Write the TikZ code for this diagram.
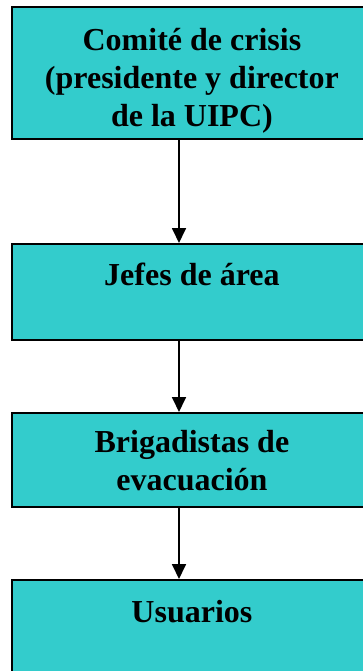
\documentclass[tikz,border=0pt]{standalone}
\usepackage{fontspec}
\setmainfont{Liberation Serif}
\usetikzlibrary{arrows.meta}
\definecolor{boxcyan}{RGB}{51,204,204}
\tikzset{
  orgbox/.style={draw=black, line width=1.8pt, fill=boxcyan, rectangle, inner sep=0pt, anchor=north west, minimum width=360pt},
  boxtext/.style={anchor=north, align=center, font=\fontsize{32}{38}\selectfont\bfseries, inner sep=0pt},
  conn/.style={line width=1.8pt, -{Triangle[length=15pt, width=14pt]}}
}
\begin{document}
\begin{tikzpicture}[x=1pt, y=-1pt]
\useasboundingbox (0,0) rectangle (363,671);
\clip (0,0) rectangle (363,671);
\node[orgbox, minimum height=132pt] (b1) at (11,6) {};
\node[orgbox, minimum height=96pt] (b2) at (11,243) {};
\node[orgbox, minimum height=94pt] (b3) at (11,412) {};
\node[orgbox, minimum height=110pt] (b4) at (11,579) {};
\node[boxtext] (t1) at ([yshift=-22pt]b1.north) {Comité de crisis\\(presidente y director\\de la UIPC)};
\node[boxtext] (t2) at ([yshift=-20pt]b2.north) {Jefes de área};
\node[boxtext] (t3) at ([yshift=-18pt]b3.north) {Brigadistas de\\evacuación};
\node[boxtext] (t4) at ([yshift=-21pt]b4.north) {Usuarios};
\coordinate (ax) at (179,0);
\draw[conn] (b1.south -| ax) -- (b2.north -| ax);
\draw[conn] (b2.south -| ax) -- (b3.north -| ax);
\draw[conn] (b3.south -| ax) -- (b4.north -| ax);
\end{tikzpicture}
\end{document}
